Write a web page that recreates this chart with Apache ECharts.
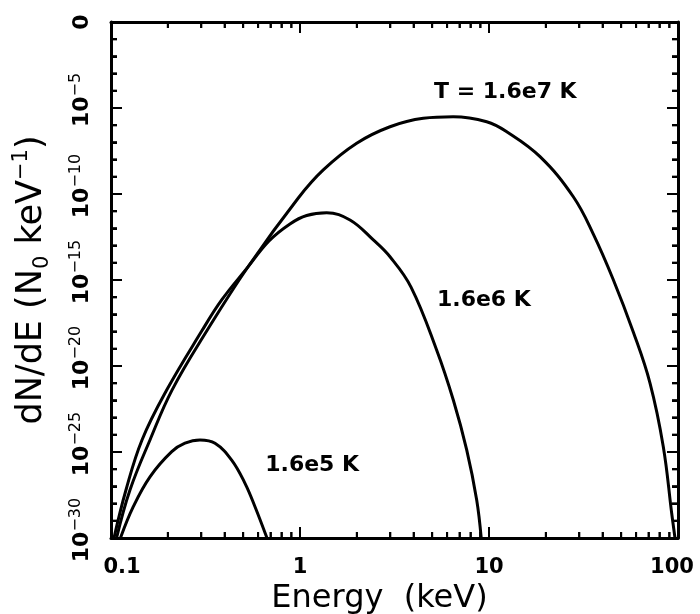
<!DOCTYPE html>
<html>
<head>
<meta charset="utf-8">
<script src="https://cdn.jsdelivr.net/npm/echarts@6/dist/echarts.min.js"></script>
<style>
html,body{margin:0;padding:0;background:#fff}
#chart{width:700px;height:614px}
</style>
</head>
<body>
<div id="chart"></div>
<script>
// energy in keV, flux as log10(dN/dE)
var energy16e7  = [0.107, 0.126, 0.1608, 0.2103, 0.3209, 0.5333, 0.9795, 1.328, 1.995, 2.994, 4.49, 6.47, 9.72, 12.41, 18.62, 27.93, 35.64, 45.3, 58.0, 71.1, 83.6, 92.6, 96.4];
var logFlux16e7 = [-30, -27.21, -24.30, -21.40, -17.97, -14.20, -10.23, -8.60, -7.05, -6.09, -5.60, -5.51, -5.80, -6.38, -7.83, -10.16, -12.33, -14.94, -18.02, -20.99, -24.69, -28.56, -30];

var energy16e6  = [0.1037, 0.1200, 0.1459, 0.1971, 0.302, 0.3852, 0.5308, 0.6855, 0.885, 1.085, 1.384, 1.839, 2.443, 2.994, 3.867, 5.283, 6.474, 7.621, 8.608, 9.094];
var logFlux16e6 = [-30, -27.21, -24.30, -21.40, -17.97, -16.16, -14.24, -12.73, -11.74, -11.25, -11.09, -11.51, -12.67, -13.65, -15.41, -19.07, -21.98, -24.88, -27.79, -30];

var energy16e5  = [0.1122, 0.1312, 0.1608, 0.2096, 0.2462, 0.2957, 0.3551, 0.4350, 0.5117, 0.578, 0.6688];
var logFlux16e5 = [-30, -28.18, -26.44, -24.98, -24.49, -24.30, -24.49, -25.47, -26.82, -28.18, -30];

var curveNames = ['T = 1.6e7 K', '1.6e6 K', '1.6e5 K'];
// where each curve's text sits (keV, log10 flux)
var labelEnergy = [12.2, 9.4, 1.16];
var labelLogFlux = [-4.07, -16.16, -25.76];

var xTickLabels = ['0.1', '1', '10', '100'];
var xMajorTicks = [0.1, 1, 10, 100];
var xMinorTicks = [0.2, 0.3, 0.4, 0.5, 0.6, 0.7, 0.8, 0.9, 2, 3, 4, 5, 6, 7, 8, 9, 20, 30, 40, 50, 60, 70, 80, 90];
var yTickExponents = [-30, -25, -20, -15, -10, -5, 0];

var X_MIN = -1, X_MAX = 2, Y_MIN = -30, Y_MAX = 0;

function log10(v){ return Math.log(v) / Math.LN10; }
function toPairs(es, ys){
	var out = [];
	for(var i=0; i<es.length; i++){
		out.push([log10(es[i]), ys[i]]);
	}
	return out;
}

var font = 'DejaVu Sans';
var lineW = 3;

// tick positions in axis units, third column: 1 = major
var xTickData = [];
xMajorTicks.forEach(function(v){ xTickData.push([log10(v), -15, 1]); });
xMinorTicks.forEach(function(v){ xTickData.push([log10(v), -15, 0]); });
var yTickData = [];
for(var n=Y_MIN; n<=Y_MAX; n++){
	yTickData.push([0.5, n, n % 5 === 0 ? 1 : 0]);
}

function tickLine(x1, y1, x2, y2){
	return {type:'line', shape:{x1:x1, y1:y1, x2:x2, y2:y2}, style:{stroke:'#000', lineWidth:2}, z:10};
}
function renderXTick(params, api){
	var v = api.value(0);
	var len = api.value(2) === 1 ? 11 : 6;
	var b = api.coord([v, Y_MIN]);
	var t = api.coord([v, Y_MAX]);
	return {type:'group', children:[
		tickLine(b[0], b[1], b[0], b[1] - len),
		tickLine(t[0], t[1], t[0], t[1] + len)
	]};
}
function renderYTick(params, api){
	var v = api.value(1);
	var len = api.value(2) === 1 ? 11 : 6;
	var l = api.coord([X_MIN, v]);
	var r = api.coord([X_MAX, v]);
	return {type:'group', children:[
		tickLine(l[0], l[1], l[0] + len, l[1]),
		tickLine(r[0], r[1], r[0] - len, r[1])
	]};
}

var axisLine = function(){ return {show:true, onZero:false, lineStyle:{color:'#000', width:3}}; };
var majorTick = function(){ return {show:true, inside:true, length:11, lineStyle:{color:'#000', width:2}}; };
var minorTick = function(){ return {show:true, splitNumber:5, length:6, lineStyle:{color:'#000', width:2}}; };

var xBottom = {
	type:'value', position:'bottom', min:X_MIN, max:X_MAX, interval:1,
	axisLine:axisLine(),
	axisTick:majorTick(),
	splitLine:{show:false},
	axisLabel:{
		show:true, margin:19,
		formatter:function(v){
			var i = Math.round(v) + 1;
			var t = xTickLabels[i];
			if(i === 0) return '{first|' + t + '}';
			if(i === xTickLabels.length-1) return '{last|' + t + '}';
			return '{n|' + t + '}';
		},
		rich:{
			n:{fontFamily:font, fontWeight:'bold', fontSize:21, color:'#000'},
			first:{fontFamily:font, fontWeight:'bold', fontSize:21, color:'#000', padding:[0,0,0,22]},
			last:{fontFamily:font, fontWeight:'bold', fontSize:21, color:'#000', padding:[0,12,0,0]}
		}
	},
	name:'Energy  (keV)',
	nameLocation:'middle',
	nameGap:43,
	nameTextStyle:{fontFamily:font, fontSize:32, color:'#000', padding:[0,30,0,0]}
};
var xTop = {
	type:'value', position:'top', min:X_MIN, max:X_MAX, interval:1,
	axisLine:axisLine(), axisTick:majorTick(), axisLabel:{show:false}, splitLine:{show:false}
};
var yLeft = {
	type:'value', position:'left', min:Y_MIN, max:Y_MAX, interval:5,
	axisLine:axisLine(),
	axisTick:majorTick(),
	minorTick:minorTick(),
	splitLine:{show:false},
	minorSplitLine:{show:false},
	axisLabel:{
		show:true, rotate:90, margin:15,
		customValues:yTickExponents,
		formatter:function(v){
			var n = Math.round(v);
			if(n === 0) return '{z|0}';
			return '{b|10}{s|\u2212' + (-n) + '}';
		},
		rich:{
			z:{fontFamily:font, fontWeight:'bold', fontSize:22, lineHeight:28, color:'#000'},
			b:{fontFamily:font, fontWeight:'bold', fontSize:22, lineHeight:28, color:'#000', padding:[0,0,0,16]},
			s:{fontFamily:font, fontSize:16, lineHeight:22, verticalAlign:'top', color:'#000'}
		}
	},
	name:'dN/dE (N{sub|0} keV{sup|\u22121})',
	nameLocation:'middle',
	nameRotate:90,
	nameGap:58,
	nameTextStyle:{
		fontFamily:font, fontSize:35, color:'#000', lineHeight:42,
		rich:{
			sub:{fontFamily:font, fontSize:21, verticalAlign:'bottom', lineHeight:32, color:'#000'},
			sup:{fontFamily:font, fontSize:21, verticalAlign:'top', lineHeight:28, color:'#000'}
		}
	}
};
var yRight = {
	type:'value', position:'right', min:Y_MIN, max:Y_MAX, interval:5,
	axisLine:axisLine(), axisTick:majorTick(), minorTick:minorTick(),
	axisLabel:{show:false}, splitLine:{show:false}, minorSplitLine:{show:false}
};

var energies = [energy16e7, energy16e6, energy16e5];
var fluxes = [logFlux16e7, logFlux16e6, logFlux16e5];
var series = [];
for(var k=0; k<3; k++){
	series.push({
		name:curveNames[k],
		type:'line',
		xAxisIndex:0, yAxisIndex:0,
		data:toPairs(energies[k], fluxes[k]),
		smooth:0.4,
		showSymbol:false,
		lineStyle:{color:'#000', width:lineW},
		markPoint:{
			symbol:'circle', symbolSize:1,
			itemStyle:{color:'rgba(0,0,0,0)'},
			label:{show:true, position:'inside', formatter:'{b}', fontFamily:font, fontWeight:'bold', fontSize:22, color:'#000'},
			data:[{name:curveNames[k], coord:[log10(labelEnergy[k]), labelLogFlux[k]]}]
		}
	});
}
series.push({type:'custom', name:'xTicks', coordinateSystem:'cartesian2d', xAxisIndex:0, yAxisIndex:0, clip:false, silent:true, z:5,
	encode:{x:0, y:1}, data:xTickData, renderItem:renderXTick});
series.push({type:'custom', name:'yTicks', coordinateSystem:'cartesian2d', xAxisIndex:0, yAxisIndex:0, clip:false, silent:true, z:5,
	encode:{x:0, y:1}, data:yTickData, renderItem:renderYTick});

var chart = echarts.init(document.getElementById('chart'), null, {renderer:'canvas'});
chart.setOption({
	animation:false,
	backgroundColor:'#fff',
	grid:{left:111, right:22, top:22, bottom:76, containLabel:false, outerBoundsMode:'none'},
	xAxis:[xBottom, xTop],
	yAxis:[yLeft, yRight],
	series:series
});

// ticks once more as plain graphics, placed through the chart's own axes
function px(x, y){ return chart.convertToPixel({xAxisIndex:0, yAxisIndex:0}, [x, y]); }
var tickEls = [];
function addTick(p, dx, dy){
	tickEls.push({type:'line', shape:{x1:p[0], y1:p[1], x2:p[0]+dx, y2:p[1]+dy}, style:{stroke:'#000', lineWidth:2}, z:100, silent:true});
}
xTickData.forEach(function(d){
	var len = d[2] === 1 ? 11 : 6;
	addTick(px(d[0], Y_MIN), 0, -len);
	addTick(px(d[0], Y_MAX), 0, len);
});
yTickData.forEach(function(d){
	var len = d[2] === 1 ? 11 : 6;
	addTick(px(X_MIN, d[1]), len, 0);
	addTick(px(X_MAX, d[1]), -len, 0);
});
chart.setOption({graphic:{elements:tickEls}});
</script>
</body>
</html>
